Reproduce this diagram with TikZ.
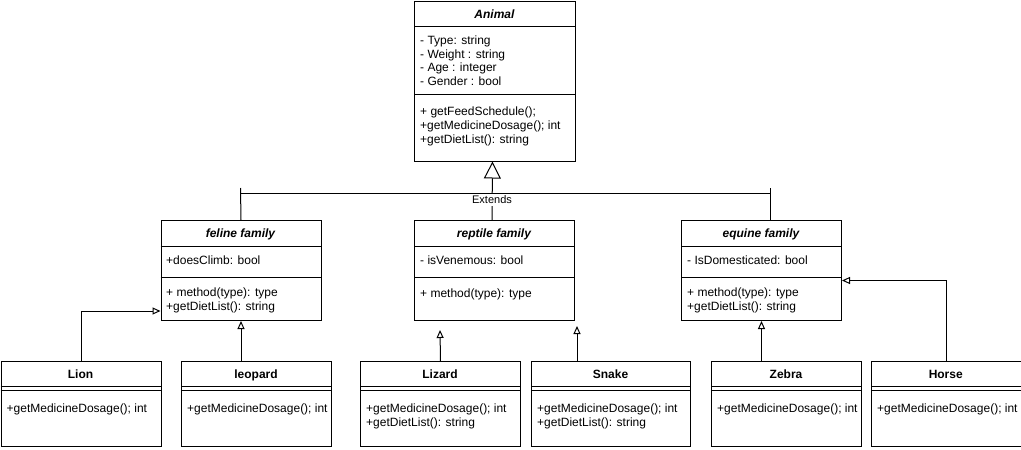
\documentclass[tikz,border=0pt]{standalone}
\usepackage{fontspec}
\setmainfont{Liberation Sans}
\usetikzlibrary{arrows.meta}
\begin{document}
\begin{tikzpicture}[x=1pt,y=-1pt,
  box/.style={draw, line width=1pt, inner sep=0pt, anchor=north west},
  txt/.style={anchor=west, inner sep=0pt, yshift=-1.5pt, font=\fontsize{12}{14}\selectfont, text height=9pt, text depth=2.5pt},
  ttl/.style={inner sep=0pt, yshift=-1.5pt, font=\fontsize{12}{14}\selectfont\bfseries, text height=9pt, text depth=2.5pt},
  ttli/.style={inner sep=0pt, yshift=-1.5pt, font=\fontsize{12}{14}\selectfont\bfseries\itshape, text height=9pt, text depth=2.5pt},
  sepline/.style={line width=1pt},
  conn/.style={line width=1pt},
  inh/.style={line width=1pt, -{Triangle[open, length=8pt, width=7pt]}},
  biginh/.style={line width=1pt, -{Triangle[open, length=17pt, width=17pt]}}]
\useasboundingbox (0,0) rectangle (1021,450);

% ---------- Animal ----------
\node[box, minimum width=161pt, minimum height=160pt] (animal) at (414,0.5) {};
\draw[sepline] (414,26) -- (575,26);
\draw[sepline] (414,94) -- (575,94);
\node[ttli] (animalT) at (494.5,13.5) {Animal};
\node[txt] (a1) at (420,40) {- Type: string};
\node[txt] (a2) at (420,53.5) {- Weight : string};
\node[txt] (a3) at (420,67) {- Age : integer};
\node[txt] (a4) at (420,81) {- Gender : bool};
\node[txt] (a5) at (420,111) {+ getFeedSchedule();};
\node[txt] (a6) at (420,125) {+getMedicineDosage(); int};
\node[txt] (a7) at (420,139) {+getDietList(): string};

% ---------- feline ----------
\node[box, minimum width=160pt, minimum height=100pt] (feline) at (160.5,220) {};
\draw[sepline] (160.5,246) -- (320.5,246);
\draw[sepline] (160.5,277) -- (320.5,277);
\node[ttli] (felineT) at (240.5,233) {feline family};
\node[txt] (f1) at (166,260) {+doesClimb: bool};
\node[txt] (f2) at (166,292) {+ method(type): type};
\node[txt] (f3) at (166,306) {+getDietList(): string};

% ---------- reptile ----------
\node[box, minimum width=160pt, minimum height=100pt] (reptile) at (414,220) {};
\draw[sepline] (414,246) -- (574,246);
\draw[sepline] (414,277) -- (574,277);
\node[ttli] (reptileT) at (494,233) {reptile family};
\node[txt] (r1) at (420,260) {- isVenemous: bool};
\node[txt] (r2) at (420,293) {+ method(type): type};

% ---------- equine ----------
\node[box, minimum width=160pt, minimum height=100pt] (equine) at (681,220) {};
\draw[sepline] (681,246) -- (841,246);
\draw[sepline] (681,277) -- (841,277);
\node[ttli] (equineT) at (761,233) {equine family};
\node[txt] (e1) at (687,260) {- IsDomesticated: bool};
\node[txt] (e2) at (687,292) {+ method(type): type};
\node[txt] (e3) at (687,306) {+getDietList(): string};

% ---------- bottom classes ----------
\node[box, minimum width=160pt, minimum height=85pt] (lion) at (0.5,361) {};
\draw[sepline] (0.5,386) -- (160.5,386);
\draw[sepline] (0.5,390) -- (160.5,390);
\node[ttl] (lionT) at (80.5,373.5) {Lion};
\node[txt] (l1) at (6.5,408) {+getMedicineDosage(); int};

\node[box, minimum width=150pt, minimum height=85pt] (leopard) at (181,361) {};
\draw[sepline] (181,386) -- (331,386);
\draw[sepline] (181,390) -- (331,390);
\node[ttl] (leopardT) at (256,373.5) {leopard};
\node[txt] (p1) at (187,408) {+getMedicineDosage(); int};

\node[box, minimum width=160pt, minimum height=85pt] (lizard) at (360,361) {};
\draw[sepline] (360,386) -- (520,386);
\draw[sepline] (360,390) -- (520,390);
\node[ttl] (lizardT) at (440,373.5) {Lizard};
\node[txt] (z1) at (366,408) {+getMedicineDosage(); int};
\node[txt] (z2) at (366,422) {+getDietList(): string};

\node[box, minimum width=159pt, minimum height=85pt] (snake) at (531,361) {};
\draw[sepline] (531,386) -- (690,386);
\draw[sepline] (531,390) -- (690,390);
\node[ttl] (snakeT) at (610.5,373.5) {Snake};
\node[txt] (s1) at (537,408) {+getMedicineDosage(); int};
\node[txt] (s2) at (537,422) {+getDietList(): string};

\node[box, minimum width=150pt, minimum height=85pt] (zebra) at (711,361) {};
\draw[sepline] (711,386) -- (861,386);
\draw[sepline] (711,390) -- (861,390);
\node[ttl] (zebraT) at (786,373.5) {Zebra};
\node[txt] (b1) at (717,408) {+getMedicineDosage(); int};

\node[box, minimum width=149.5pt, minimum height=85pt] (horse) at (871,361) {};
\draw[sepline] (871,386) -- (1020.5,386);
\draw[sepline] (871,390) -- (1020.5,390);
\node[ttl] (horseT) at (945.75,373.5) {Horse};
\node[txt] (h1) at (877,408) {+getMedicineDosage(); int};

% ---------- extends bus ----------
\coordinate (busL) at (240.5,193);
\coordinate (busR) at (770.5,193);
\coordinate (tickL) at (240.5,188);
\coordinate (tickR) at (770.5,188);
\coordinate (eqTop) at (770.5,220);
\draw[conn] (busL) -- (busR);
\draw[conn] (tickL) -- (feline.north);
\draw[conn] (tickR) -- (eqTop);
\draw[biginh] ([xshift=-2.5pt]reptile.north) -- ([xshift=-2.5pt]animal.south);
\node[fill=white, inner xsep=1pt, inner ysep=2pt, font=\fontsize{11}{13}\selectfont] (extends) at (492,200) {Extends};

% ---------- inheritance arrows ----------
\draw[inh] (lion.north) |- ([yshift=10pt]feline.south west);
\draw[inh] (leopard.north -| feline.south) -- (feline.south);
\coordinate (lizTip) at (440,330);
\draw[inh] (lizard.north) -- (lizTip);
\coordinate (snBase) at (577,361);
\coordinate (snTip) at (577,326);
\draw[inh] (snBase) -- (snTip);
\draw[inh] (zebra.north -| equine.south) -- (equine.south);
\draw[inh] (horse.north) |- ([yshift=-10pt]equine.east);
\end{tikzpicture}
\end{document}
